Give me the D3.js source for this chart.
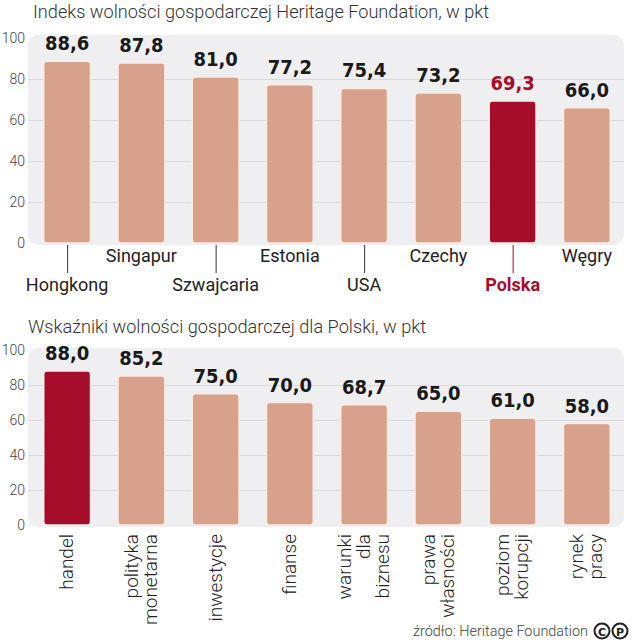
<!DOCTYPE html>
<html>
<head>
<meta charset="utf-8">
<script src="https://cdn.jsdelivr.net/npm/d3@7/dist/d3.min.js"></script>
<style>
  html, body { margin: 0; padding: 0; background: #ffffff; }
  svg { display: block; }
</style>
</head>
<body>
<svg id="chart" width="636" height="640"></svg>
<script>
// ---- DATA ----
const title1 = "Indeks wolności gospodarczej Heritage Foundation, w pkt";
const title2 = "Wskaźniki wolności gospodarczej dla Polski, w pkt";
const source = "źródło: Heritage Foundation";

const countries = ["Hongkong", "Singapur", "Szwajcaria", "Estonia", "USA", "Czechy", "Polska", "Węgry"];
const countryValues = [88.6, 87.8, 81.0, 77.2, 75.4, 73.2, 69.3, 66.0];
const highlightCountry = "Polska";

const indicators = ["handel", "polityka monetarna", "inwestycje", "finanse", "warunki dla biznesu", "prawa własności", "poziom korupcji", "rynek pracy"];
const indicatorLines = [["handel"], ["polityka", "monetarna"], ["inwestycje"], ["finanse"], ["warunki", "dla", "biznesu"], ["prawa", "własności"], ["poziom", "korupcji"], ["rynek", "pracy"]];
const indicatorValues = [88.0, 85.2, 75.0, 70.0, 68.7, 65.0, 61.0, 58.0];
const highlightIndicator = "handel";

const yTicks = [0, 20, 40, 60, 80, 100];

// ---- STYLE ----
const C_BAR = "#d8a18b";
const C_RED = "#a50d2b";
const C_PANEL = "#efeff1";
const C_GRID = "#d9d9dd";
const C_TEXT = "#222";
const fmt = v => d3.format(".1f")(v).replace(".", ",");

const svg = d3.select("#chart");
const left = 28, right = 624;

function panel(g, y, top) {
  g.append("rect")
    .attr("x", left).attr("y", top)
    .attr("width", right - left).attr("height", y(0) + 2 - top)
    .attr("rx", 10).attr("fill", C_PANEL);
  g.selectAll(".grid").data(yTicks.filter(t => t > 0 && t < 100)).join("line")
    .attr("x1", left).attr("x2", right)
    .attr("y1", d => y(d) + 0.5).attr("y2", d => y(d) + 0.5)
    .attr("stroke", C_GRID).attr("stroke-width", 1);
  const ax = d3.axisLeft(y).tickValues(yTicks).tickSize(0).tickPadding(0);
  const a = g.append("g").attr("transform", `translate(25,0)`).call(ax);
  a.select(".domain").remove();
  a.selectAll("text")
    .attr("font-family", "Roboto, 'Open Sans', sans-serif")
    .attr("font-weight", 300)
    .attr("font-size", 14)
    .attr("fill", "#444");
}

function bars(g, x, y, cats, vals, hl, redLabel) {
  const data = cats.map((c, i) => ({ c, v: vals[i] }));
  g.selectAll(".bar").data(data).join("rect")
    .attr("x", d => x(d.c)).attr("width", x.bandwidth())
    .attr("y", d => y(d.v)).attr("height", d => y(0) - y(d.v))
    .attr("rx", 3)
    .attr("fill", d => d.c === hl ? C_RED : C_BAR)
    .attr("stroke", "#f8ece6").attr("stroke-width", 1.5);
  g.selectAll(".val").data(data).join("text")
    .attr("x", d => x(d.c) + x.bandwidth() / 2)
    .attr("y", d => y(d.v) - 11)
    .attr("text-anchor", "middle")
    .attr("font-family", "'DejaVu Sans Condensed', 'DejaVu Sans', sans-serif")
    .attr("font-stretch", "condensed")
    .attr("font-weight", "bold")
    .attr("font-size", 20)
    .attr("fill", d => (redLabel && d.c === hl) ? C_RED : "#1a1a1a")
    .text(d => fmt(d.v));
}

// ---- TOP CHART ----
const x1 = d3.scaleBand().domain(countries).range([30, 624]).paddingInner(0.37).paddingOuter(0.185);
const y1 = d3.scaleLinear().domain([0, 100]).range([243, 38]);
const g1 = svg.append("g");
g1.append("text").attr("x", 33).attr("y", 18)
  .attr("font-family", "Roboto, 'Open Sans', sans-serif").attr("font-weight", 300)
  .attr("font-size", 19).attr("fill", "#333")
  .attr("textLength", 456).attr("lengthAdjust", "spacingAndGlyphs")
  .text(title1);
panel(g1, y1, 35);
bars(g1, x1, y1, countries, countryValues, highlightCountry, true);

countries.forEach((c, i) => {
  const cx = x1(c) + x1.bandwidth() / 2;
  const low = i % 2 === 0;
  const isHl = c === highlightCountry;
  if (low) {
    g1.append("line").attr("x1", cx + 0.5).attr("x2", cx + 0.5)
      .attr("y1", y1(0) + 2).attr("y2", 273)
      .attr("stroke", isHl ? C_RED : "#333").attr("stroke-width", 1);
  }
  g1.append("text").attr("x", cx).attr("y", low ? 291 : 262)
    .attr("text-anchor", "middle")
    .attr("font-family", "Roboto, 'Open Sans', sans-serif")
    .attr("font-weight", isHl ? 700 : 400)
    .attr("font-size", 18)
    .attr("fill", isHl ? C_RED : C_TEXT)
    .text(c);
});

// ---- BOTTOM CHART ----
const x2 = d3.scaleBand().domain(indicators).range([30, 624]).paddingInner(0.37).paddingOuter(0.185);
const y2 = d3.scaleLinear().domain([0, 100]).range([525, 350]);
const g2 = svg.append("g");
g2.append("text").attr("x", 28).attr("y", 333)
  .attr("font-family", "Roboto, 'Open Sans', sans-serif").attr("font-weight", 300)
  .attr("font-size", 19).attr("fill", "#333")
  .attr("textLength", 398).attr("lengthAdjust", "spacingAndGlyphs")
  .text(title2);
panel(g2, y2, 348);
bars(g2, x2, y2, indicators, indicatorValues, highlightIndicator, false);

indicators.forEach((c, i) => {
  const cx = x2(c) + x2.bandwidth() / 2;
  const lines = indicatorLines[i];
  const n = lines.length;
  const gg = g2.append("g").attr("transform", `translate(${cx},534) rotate(-90)`);
  lines.forEach((ln, j) => {
    gg.append("text")
      .attr("x", 0)
      .attr("y", (j - (n - 1) / 2) * 19 + 6)
      .attr("text-anchor", "end")
      .attr("font-family", "Roboto, 'Open Sans', sans-serif")
      .attr("font-weight", 300)
      .attr("font-size", 19)
      .attr("fill", C_TEXT)
      .text(ln);
  });
});

// ---- SOURCE ----
svg.append("text").attr("x", 413).attr("y", 636)
  .attr("font-family", "Roboto, 'Open Sans', sans-serif").attr("font-weight", 300)
  .attr("font-size", 15).attr("fill", "#444")
  .attr("textLength", 175).attr("lengthAdjust", "spacingAndGlyphs")
  .text(source);

const logo = svg.append("g");
[["C", 602], ["P", 620]].forEach(([t, cx]) => {
  logo.append("circle").attr("cx", cx).attr("cy", 631).attr("r", 7.5)
    .attr("fill", "#fff").attr("stroke", "#222").attr("stroke-width", 2);
  logo.append("text").attr("x", cx).attr("y", 635.5).attr("text-anchor", "middle")
    .attr("font-family", "'DejaVu Sans', sans-serif").attr("font-weight", "bold")
    .attr("font-size", 11).attr("fill", "#222").text(t);
});
</script>
</body>
</html>
